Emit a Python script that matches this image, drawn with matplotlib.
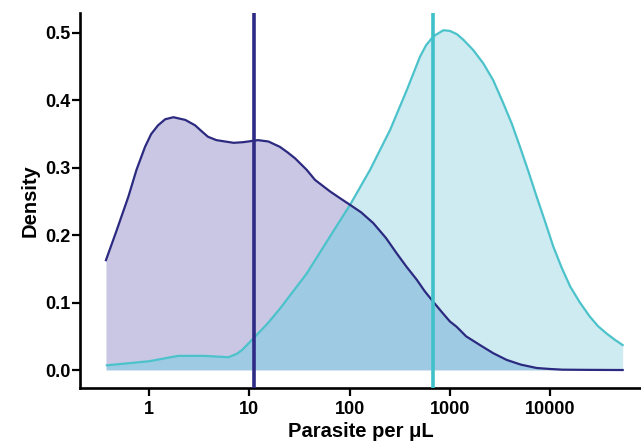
import matplotlib
matplotlib.use("Agg")
import matplotlib.pyplot as plt

# ---- data ----
navy_x = [0.372, 0.47, 0.622, 0.75, 0.912, 1.05, 1.23, 1.45, 1.75, 2.3, 2.88,
          3.3, 3.87, 4.7, 5.73, 7.0, 8.7, 12.2, 15.5, 20.2, 24.0, 28.6, 37.3,
          45.2, 63.7, 80, 101, 130, 172, 230, 295, 370, 467, 560, 684, 830,
          1000, 1170, 1450, 1995, 2700, 3680, 5100, 7330, 10000, 13400, 25000,
          52800]
navy_d = [0.163, 0.205, 0.257, 0.297, 0.331, 0.350, 0.363, 0.372, 0.375, 0.371,
          0.363, 0.355, 0.346, 0.341, 0.339, 0.337, 0.338, 0.341, 0.339, 0.331,
          0.323, 0.314, 0.297, 0.282, 0.265, 0.255, 0.245, 0.234, 0.218, 0.196,
          0.173, 0.153, 0.134, 0.117, 0.101, 0.086, 0.072, 0.064, 0.050, 0.037,
          0.025, 0.015, 0.008, 0.003, 0.0015, 0.0005, 0.0002, 0.0]

cyan_x = [0.38, 1.0, 1.95, 3.5, 6.2, 7.5, 8.5, 11.0, 15.0, 20.2, 37.3, 63.7,
          101, 160, 253, 371, 504, 580, 684, 860, 1000, 1180, 1360, 1700, 2150,
          2700, 3400, 4150, 5000, 6050, 7330, 8900, 10740, 13000, 15800, 19800,
          24900, 30000, 36600, 44000, 52800]
cyan_d = [0.007, 0.013, 0.021, 0.021, 0.019, 0.024, 0.030, 0.047, 0.068, 0.091,
          0.143, 0.198, 0.245, 0.297, 0.356, 0.415, 0.465, 0.482, 0.495, 0.504,
          0.503, 0.498, 0.490, 0.475, 0.455, 0.430, 0.396, 0.365, 0.331, 0.295,
          0.257, 0.220, 0.183, 0.152, 0.124, 0.100, 0.079, 0.065, 0.054, 0.045,
          0.037]

navy_median = 11.2
cyan_median = 684

x_ticks = [1, 10, 100, 1000, 10000]
x_tick_labels = ["1", "10", "100", "1000", "10000"]
y_ticks = [0.0, 0.1, 0.2, 0.3, 0.4, 0.5]
y_tick_labels = ["0.0", "0.1", "0.2", "0.3", "0.4", "0.5"]

# ---- styling ----
plt.rcParams['font.family'] = ['Liberation Sans', 'DejaVu Sans']
navy_line = "#2c2a80"
navy_fill = "#c9c7e4"
cyan_line = "#4cc2cb"
cyan_fill = "#cdebf1"
overlap_fill = "#9ecbe3"

fig = plt.figure(figsize=(6.41, 4.46), dpi=100)
ax = fig.add_axes([0.1248, 0.130, 0.8752, 0.841])

nf = ax.fill_between(navy_x, navy_d, 0, color=navy_fill, lw=0, zorder=1)
cf = ax.fill_between(cyan_x, cyan_d, 0, color=cyan_fill, lw=0, zorder=2)
ov = ax.fill_between(navy_x, navy_d, 0, color=overlap_fill, lw=0, zorder=3)
ov.set_clip_path(cf.get_paths()[0], transform=ax.transData)

ax.plot(cyan_x, cyan_d, color=cyan_line, lw=1.6, zorder=4,
        solid_joinstyle='round')
ax.plot(navy_x, navy_d, color=navy_line, lw=1.6, zorder=5,
        solid_joinstyle='round')

ax.axvline(navy_median, color="#2e2b86", lw=2.6, zorder=6)
ax.axvline(cyan_median, color="#40c0c9", lw=2.6, zorder=6)

ax.set_xscale('log')
ax.set_xlim(0.205, 80400)
ax.set_ylim(-0.0267, 0.5297)

ax.set_xticks(x_ticks)
ax.set_xticklabels(x_tick_labels)
ax.xaxis.set_minor_locator(matplotlib.ticker.NullLocator())
ax.set_yticks(y_ticks)
ax.set_yticklabels(y_tick_labels)

for s in ['top', 'right']:
    ax.spines[s].set_visible(False)
for s in ['left', 'bottom']:
    ax.spines[s].set_linewidth(1.9)
    ax.spines[s].set_color('black')

ax.tick_params(axis='both', which='major', direction='out', length=6, width=1.6,
               labelsize=13, colors='black')
ax.tick_params(axis='y', pad=1)
ax.tick_params(axis='x', pad=3)
for lab in ax.get_xticklabels() + ax.get_yticklabels():
    lab.set_fontweight('bold')

ax.set_xlabel("Parasite per μL", fontsize=14.5, fontweight='bold', labelpad=3)
ax.set_ylabel("Density", fontsize=14.5, fontweight='bold', labelpad=4)

fig.savefig("out.png", dpi=100)
